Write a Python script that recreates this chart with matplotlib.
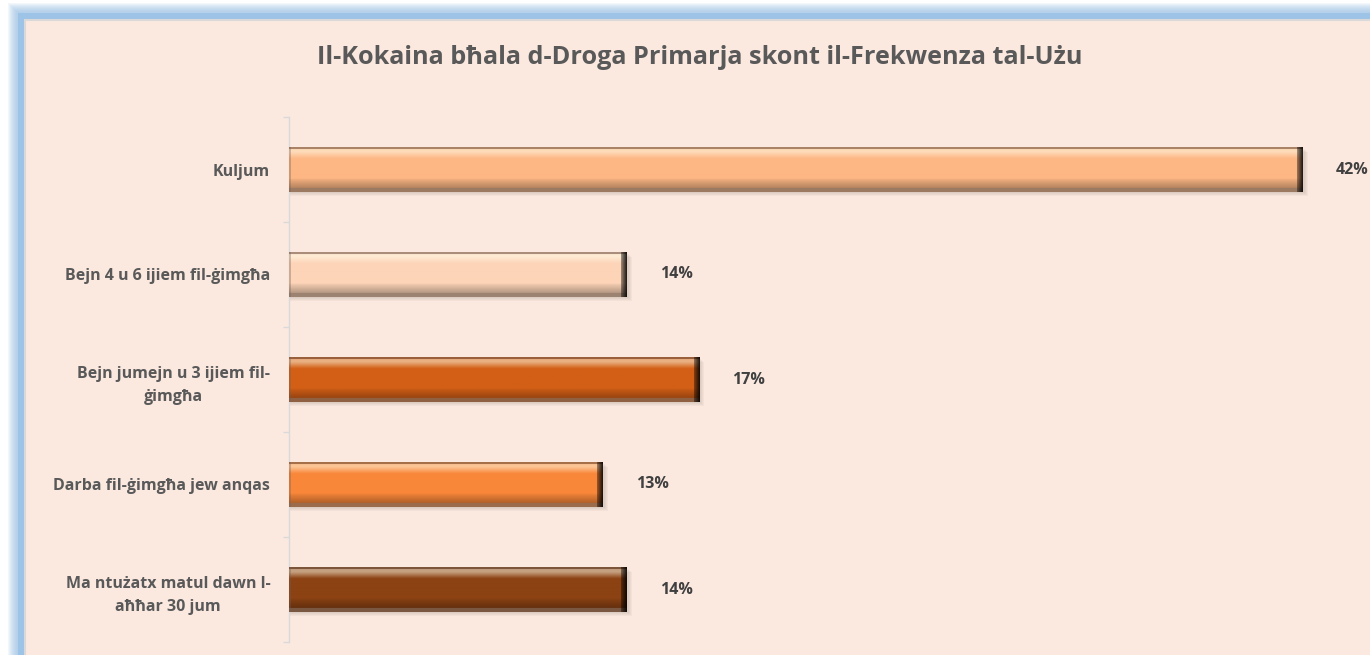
import numpy as np
import matplotlib
matplotlib.use("Agg")
import matplotlib.pyplot as plt
from matplotlib.patches import Rectangle
from matplotlib.colors import to_rgb

plt.rcParams['font.family'] = ['Open Sans', 'DejaVu Sans']

title = "Il-Kokaina bħala d-Droga Primarja skont il-Frekwenza tal-Użu"
categories = [
    "Kuljum",
    "Bejn 4 u 6 ijiem fil-ġimgħa",
    "Bejn jumejn u 3 ijiem fil-\nġimgħa",
    "Darba fil-ġimgħa jew anqas",
    "Ma ntużatx matul dawn l-\naħħar 30 jum",
]
values = [42, 14, 17, 13, 14]
bar_colors = ["#FDB784", "#FDD4B7", "#D35F16", "#F9873A", "#8C4213"]

W, H = 1370, 655
fig = plt.figure(figsize=(W / 100, H / 100), dpi=100, facecolor="white")

# background frame with soft blue glow
bg = fig.add_axes([0, 0, 1, 1])
bg.set_xlim(0, W)
bg.set_ylim(H, 0)
bg.axis("off")
glow = "#9DC3E6"
n = 10
for i in range(n):
    d = n - i
    bg.add_patch(Rectangle((18 - d, 13 - d), W, H, facecolor=glow, edgecolor="none", alpha=0.12))
bg.add_patch(Rectangle((18, 13), W, H, facecolor=glow, edgecolor="none"))
bg.add_patch(Rectangle((25, 20), W, H, facecolor="#FBE9E0", edgecolor="#D9D9D9", linewidth=1.5))

# plot axes
left_px, right_px, top_px, bot_px = 289, 1320, 117, 642
ax = fig.add_axes([left_px / W, 1 - bot_px / H, (right_px - left_px) / W, (bot_px - top_px) / H])
ax.set_facecolor("none")
xmax = 42 * (right_px - left_px) / (1303 - left_px)
ax.set_xlim(0, xmax)
ax.set_ylim(len(categories) - 0.5, -0.5)

ypos = np.arange(len(categories))
bh = 0.42
px_per_unit = (right_px - left_px) / xmax
px_per_y = (bot_px - top_px) / len(categories)

# shadows
for y, v in zip(ypos, values):
    for k in range(4):
        off = (1.5 + k) / px_per_y
        ax.add_patch(Rectangle((0, y - bh / 2 + off), v + (2 + k) / px_per_unit, bh,
                               facecolor="#7a6a60", edgecolor="none", alpha=0.06, zorder=1))

bars = ax.barh(ypos, values, height=bh, color=bar_colors, zorder=2)


def mix(c, t, f):
    return np.array(c) * (1 - f) + np.array(t) * f


for bar, col, v in zip(bars, bar_colors, values):
    base = np.array(to_rgb(col))
    hp = int(round(bh * px_per_y))
    wp = int(round(v * px_per_unit))
    img = np.zeros((hp, wp, 3))
    white = np.array([1, 1, 0.93])
    black = np.zeros(3)
    edge = np.array([0.45, 0.38, 0.33])
    for r in range(hp):
        t = r / (hp - 1)
        if t < 0.04:
            c = mix(base, edge, 0.6)
        elif t < 0.1:
            c = mix(base, white, 0.5)
        elif t < 0.25:
            c = mix(base, white, 0.5 * (0.25 - t) / 0.15)
        elif t < 0.72:
            c = base
        elif t < 0.93:
            c = mix(base, black, 0.05 + 0.25 * (t - 0.72) / 0.21)
        else:
            c = mix(base, edge, 0.7)
        img[r, :, :] = c
    # right bevel
    for cidx in range(max(0, wp - 6), wp):
        f = 0.4 + 0.09 * (cidx - (wp - 6))
        img[:, cidx, :] = mix(img[:, cidx, :], black, min(f, 0.85))
    img[:, :2, :] = mix(img[:, :2, :], edge, 0.35)
    x0, y0 = bar.get_x(), bar.get_y()
    im = ax.imshow(img, extent=(x0, x0 + v, y0 + bh, y0), aspect="auto",
                   interpolation="bilinear", zorder=3)
    im.set_clip_path(bar)
    ax.annotate(f"{v}%", xy=(v, bar.get_y() + bh / 2), xytext=(33, 0),
                textcoords="offset pixels", ha="left", va="center",
                fontsize=11.5, fontweight="bold", color="#404040")

ax.set_xlim(0, xmax)
ax.set_ylim(len(categories) - 0.5, -0.5)
ax.set_yticks(ypos)
ax.set_yticklabels(categories, fontsize=11.5, fontweight="bold", color="#595959",
                   ha="right", multialignment="center", linespacing=1.6)
ax.tick_params(axis="y", which="major", length=0, pad=13.5)
ax.set_yticks(np.arange(-0.5, len(categories), 1), minor=True)
ax.tick_params(axis="y", which="minor", length=4.5, color="#D9D9D9", width=1)
ax.set_xticks([])
for s in ["top", "right", "bottom"]:
    ax.spines[s].set_visible(False)
ax.spines["left"].set_color("#D9D9D9")
ax.spines["left"].set_linewidth(1)

fig.text(700 / W, 1 - 57 / H, title, ha="center", va="center",
         fontsize=18.2, fontweight="bold", color="#595959")

fig.savefig("out.png", dpi=100, facecolor="white")
